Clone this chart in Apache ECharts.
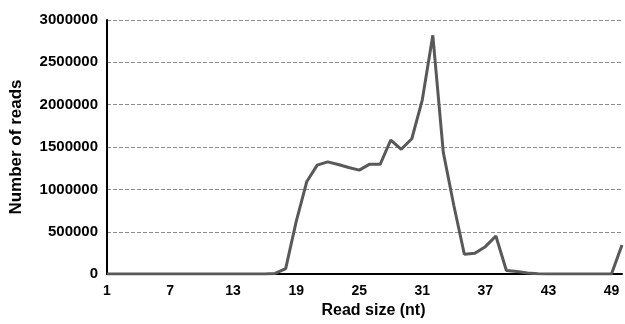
<!DOCTYPE html>
<html>
<head>
<meta charset="utf-8">
<script src="https://cdn.jsdelivr.net/npm/echarts@6/dist/echarts.min.js"></script>
<style>
  html, body { margin: 0; padding: 0; background: #fff; }
  #chart { width: 625px; height: 324px; }
</style>
</head>
<body>
<div id="chart"></div>
<script>
// read sizes 1..50 nt
const readSizes = [];
for (let i = 1; i <= 50; i++) readSizes.push(String(i));

// number of reads per size
const readCounts = [
  0, 0, 0, 0, 0, 0, 0, 0, 0, 0,
  0, 0, 0, 0, 0, 0, 8000, 65000, 620000, 1090000,
  1287000, 1325000, 1294000, 1259000, 1228000, 1298000, 1298000, 1583000, 1474000, 1598000,
  2058000, 2819000, 1435000, 810000, 234000, 246000, 324000, 450000, 42000, 31000,
  14000, 3000, 0, 0, 0, 0, 0, 0, 0, 343000
];

const shownTicks = ['1', '7', '13', '19', '25', '31', '37', '43', '49'];

const font = 'Liberation Sans, Arial, sans-serif';

let myChart = echarts.init(document.getElementById('chart'));
let option = {
  animation: false,
  grid: { left: 106, right: 2, top: 20, bottom: 48 },
  xAxis: {
    type: 'category',
    data: readSizes,
    boundaryGap: false,
    name: 'Read size (nt)',
    nameLocation: 'middle',
    nameGap: 26,
    nameTextStyle: { fontFamily: font, fontWeight: 'bold', fontSize: 16, color: '#000', padding: [0, 0, 0, 18] },
    axisLine: { lineStyle: { color: '#000', width: 2 } },
    axisTick: { show: false },
    axisLabel: {
      interval: 0,
      margin: 10,
      fontFamily: font, fontWeight: 'bold', fontSize: 14, color: '#000',
      formatter: v => shownTicks.includes(v) ? v : ''
    },
    splitLine: { show: false }
  },
  yAxis: {
    type: 'value',
    min: 0,
    max: 3000000,
    interval: 500000,
    name: 'Number of reads',
    nameLocation: 'middle',
    nameGap: 82,
    nameTextStyle: { fontFamily: font, fontWeight: 'bold', fontSize: 17, color: '#000' },
    axisLine: { show: true, lineStyle: { color: '#000', width: 2 } },
    axisTick: { show: false },
    axisLabel: {
      margin: 9, fontFamily: font, fontWeight: 'bold', fontSize: 15, color: '#000',
      formatter: v => String(v)
    },
    splitLine: { show: true, lineStyle: { color: '#8c8c8c', type: 'dashed', width: 1 } }
  },
  series: [{
    type: 'line',
    data: readCounts,
    symbol: 'none',
    smooth: false,
    lineStyle: { color: '#595959', width: 3 }
  }]
};
myChart.setOption(option);
</script>
</body>
</html>
